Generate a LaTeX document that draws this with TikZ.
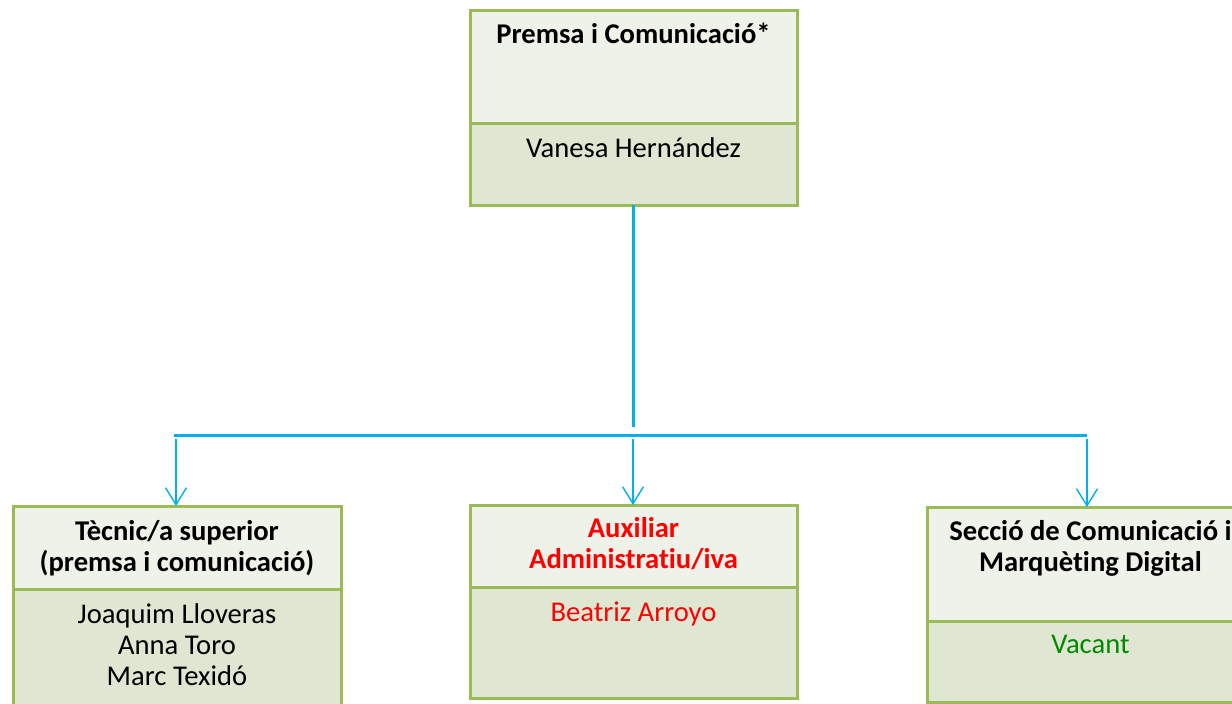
\documentclass[tikz,border=0pt]{standalone}
\usepackage{fontspec}
\setmainfont{Carlito}[Ligatures=NoCommon]
\usetikzlibrary{arrows.meta}
\definecolor{boxgreen}{HTML}{9BBB59}
\definecolor{headfill}{HTML}{EFF2E9}
\definecolor{bodyfill}{HTML}{DFE7D2}
\definecolor{linkblue}{HTML}{00B0F0}
\definecolor{vacgreen}{HTML}{008A00}
\begin{document}
\begin{tikzpicture}[x=1pt,y=-1pt,
  sect/.style={draw=boxgreen, line width=3pt, anchor=north west, inner sep=0pt, outer sep=0pt, minimum width=327pt},
  head/.style={sect, fill=headfill},
  body/.style={sect, fill=bodyfill},
  txt/.style={anchor=base, align=center, inner sep=0pt, font=\fontsize{28.6}{30.7}\selectfont},
  ttl/.style={anchor=base, align=center, inner sep=0pt, font=\fontsize{28.6}{30.2}\selectfont\bfseries},
  trunk/.style={draw=linkblue, line width=3pt},
  branch/.style={draw=linkblue, line width=1.4pt, -{Straight Barb[length=17pt,width=21pt]}}]
\useasboundingbox (0,0) rectangle (1232,704);
\clip (0,0) rectangle (1232,704);
% top box
\node[head, minimum height=113pt] (topH) at (470,10) {};
\node[body, minimum height=82pt] (topB) at (470,123) {};
\node[ttl] (topT) at (633.5,43) {Premsa i Comunicació*};
\node[txt] (topN) at (633.5,157) {Vanesa Hernández};
% left box
\node[head, minimum height=83pt, minimum width=328pt] (lH) at (13,506) {};
\node[body, minimum height=130pt, minimum width=328pt] (lB) at (13,589) {};
\node[ttl] (lT) at (177,571) {Tècnic/a superior\\(premsa i comunicació)};
\node[txt] (lN) at (177,685) {Joaquim Lloveras\\Anna Toro\\Marc Texidó};
% middle box
\node[head, minimum height=82pt] (mH) at (470,505) {};
\node[body, minimum height=111pt] (mB) at (470,587) {};
\node[ttl, text=red] (mT) at (633.5,568) {Auxiliar\\Administratiu/iva};
\node[txt, text=red] (mN) at (633.5,621) {Beatriz Arroyo};
% right box
\node[head, minimum height=114pt] (rH) at (927,507) {};
\node[body, minimum height=81pt] (rB) at (927,621) {};
\node[ttl] (rT) at (1090.5,571) {Secció de Comunicació i\\Marquèting Digital};
\node[txt, text=vacgreen] (rN) at (1090.5,653) {Vacant};
% connectors
\coordinate (tj) at (633.5,427);
\coordinate (hl) at (174,435);
\coordinate (hr) at (1087,435);
\draw[trunk] (topB.south) -- (tj);
\draw[trunk] (hl) -- (hr);
\coordinate (a1) at (176,439);
\coordinate (a2) at (633,439);
\coordinate (a3) at (1087,439);
\draw[branch] (a1) -- (a1 |- lH.north);
\draw[branch] (a2) -- (a2 |- mH.north);
\draw[branch] (a3) -- (a3 |- rH.north);
\end{tikzpicture}
\end{document}
